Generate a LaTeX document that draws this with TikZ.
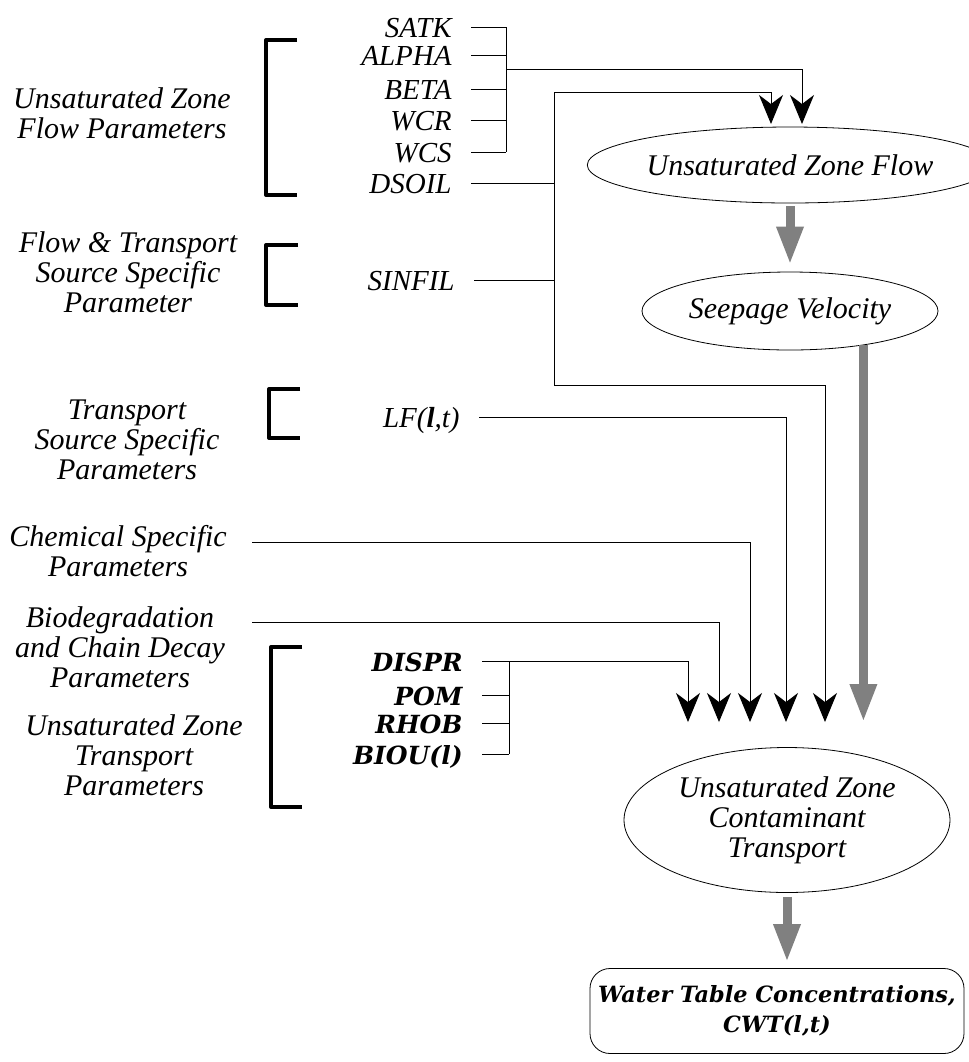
\documentclass[tikz,border=0pt]{standalone}
\usepackage{fontspec}
\setmainfont{Liberation Serif}
\newfontfamily\parbfont{DejaVu Serif}
\usetikzlibrary{arrows.meta,positioning,calc,shapes.geometric}
\definecolor{GrisFlecha}{HTML}{808080}
\tikzset{
  grupo/.style    = {align=center, font=\fontsize{15}{15}\selectfont\itshape,
                     inner sep=0pt},
  param/.style    = {anchor=east, font=\fontsize{14.5}{15}\selectfont\itshape,
                     inner xsep=9.5pt, inner ysep=0pt, text height=10pt,
                     text depth=0pt},
  paramb/.style   = {param, font=\fontsize{12.5}{15}\selectfont\parbfont\bfseries\itshape},
  proceso/.style  = {draw, ellipse, align=center, inner sep=0pt,
                     font=\fontsize{15}{15}\selectfont\itshape},
  salida/.style   = {draw, rounded corners=10pt, align=center, inner sep=0pt,
                     font=\fontsize{11.2}{15}\selectfont\parbfont\bfseries\itshape},
  linea/.style    = {line width=0.5pt},
  flecha/.style   = {linea, -{Stealth[length=14.5pt, width=12pt, inset=4.5pt]}},
  flechag/.style  = {draw=GrisFlecha, line width=4.5pt,
                     -{Triangle[length=19pt, width=12.5pt]}},
  corchete/.style = {line width=2pt, line join=round},
}

\begin{document}
\begin{tikzpicture}[x=0.5pt, y=-0.5pt]
  \useasboundingbox (0,0) rectangle (969,1062);

  % grupos de parametros
  \node[grupo] (g1) at (122,113) {Unsaturated Zone\\Flow Parameters};
  \node[grupo] (g2) at (128,272) {Flow \& Transport\\Source Specific\\Parameter};
  \node[grupo] (g3) at (127,440) {Transport\\Source Specific\\Parameters};
  \node[grupo] (g4) at (118,551) {Chemical Specific\\Parameters};
  \node[grupo] (g5) at (120,647) {Biodegradation\\and Chain Decay\\Parameters};
  \node[grupo] (g6) at (134,755) {Unsaturated Zone\\Transport\\Parameters};

  % corchetes
  \draw[corchete] (297,40) -- (266,40) -- (266,195) -- (297,195);
  \draw[corchete] (298,245) -- (266,245) -- (266,305) -- (298,305);
  \draw[corchete] (300,389) -- (269,389) -- (269,438) -- (300,438);
  \draw[corchete] (302,647) -- (271,647) -- (271,807) -- (302,807);

  % parametros
  \node[param] (satk)   at (471,27)  {SATK};
  \node[param] (alpha)  at (471,55)  {ALPHA};
  \node[param] (beta)   at (471,89)  {BETA};
  \node[param] (wcr)    at (471,120) {WCR};
  \node[param] (wcs)    at (471,152) {WCS};
  \node[param] (dsoil)  at (471,183) {DSOIL};
  \node[param] (sinfil) at (474,280) {SINFIL};
  \node[param] (lf)     at (479,417) {LF(\textbf{l},t)};
  \node[paramb] (dispr) at (482,661) {DISPR};
  \node[paramb] (pom)   at (482,695) {POM};
  \node[paramb] (rhob)  at (482,723) {RHOB};
  \node[paramb] (biou)  at (482,754) {BIOU(l)};

  % procesos
  \node[proceso, minimum width=177.5pt, minimum height=38pt] (uzf) at (790,165)
    {Unsaturated Zone Flow};
  \node[proceso, minimum width=148pt, minimum height=39pt] (seep) at (790,311)
    {Seepage Velocity};
  \node[proceso, minimum width=163pt, minimum height=72.5pt] (uzct) at (787,820)
    {Unsaturated Zone\\Contaminant\\Transport};
  \node[salida, minimum width=187pt, minimum height=42.5pt] (wtc) at (777,1011)
    {Water Table Concentrations,\\CWT(l,t)};

  % puntos de union y puntas
  \coordinate (busA) at (506,69);
  \coordinate (busB) at (554,92);
  \coordinate (busC) at (554,385);
  \coordinate (busD) at (509,661);
  \coordinate (cq)   at (252,542);
  \coordinate (bd)   at (252,622);
  \coordinate (pa)   at (802,124);
  \coordinate (pb)   at (771,124);
  \coordinate (t1)   at (688,722);
  \coordinate (t2)   at (719,722);
  \coordinate (t3)   at (750,722);
  \coordinate (t4)   at (786,722);
  \coordinate (t5)   at (825,722);

  % flujo
  \foreach \p in {satk,alpha,beta,wcr,wcs}
    \draw[linea] (\p.east) -- (\p.east -| busA);
  \draw[linea] (satk.east -| busA) -- (wcs.east -| busA);
  \draw[flecha] (busA) -| (pa);
  \draw[linea] (dsoil.east) -- (dsoil.east -| busB);
  \draw[linea] (sinfil.east) -- (sinfil.east -| busB);
  \draw[linea] (busB) -- (busC);
  \draw[flecha] (busB) -| (pb);
  \draw[flecha] (busC) -| (t5);
  \draw[flecha] (lf.east) -| (t4);
  \draw[flecha] (cq) -| (t3);
  \draw[flecha] (bd) -| (t2);

  % transporte
  \foreach \p in {dispr,pom,rhob,biou}
    \draw[linea] (\p.east) -- (\p.east -| busD);
  \draw[linea] (busD) -- (biou.east -| busD);
  \draw[flecha] (busD) -| (t1);

  % flechas grises
  \draw[flechag, shorten <=1.5pt, shorten >=3.5pt] (uzf) -- (seep);
  \draw[flechag] (seep.-25) -- (seep.-25 |- t5);
  \draw[flechag, shorten <=2pt, shorten >=3pt] (uzct.south) -- (uzct.south |- wtc.north);
\end{tikzpicture}
\end{document}
